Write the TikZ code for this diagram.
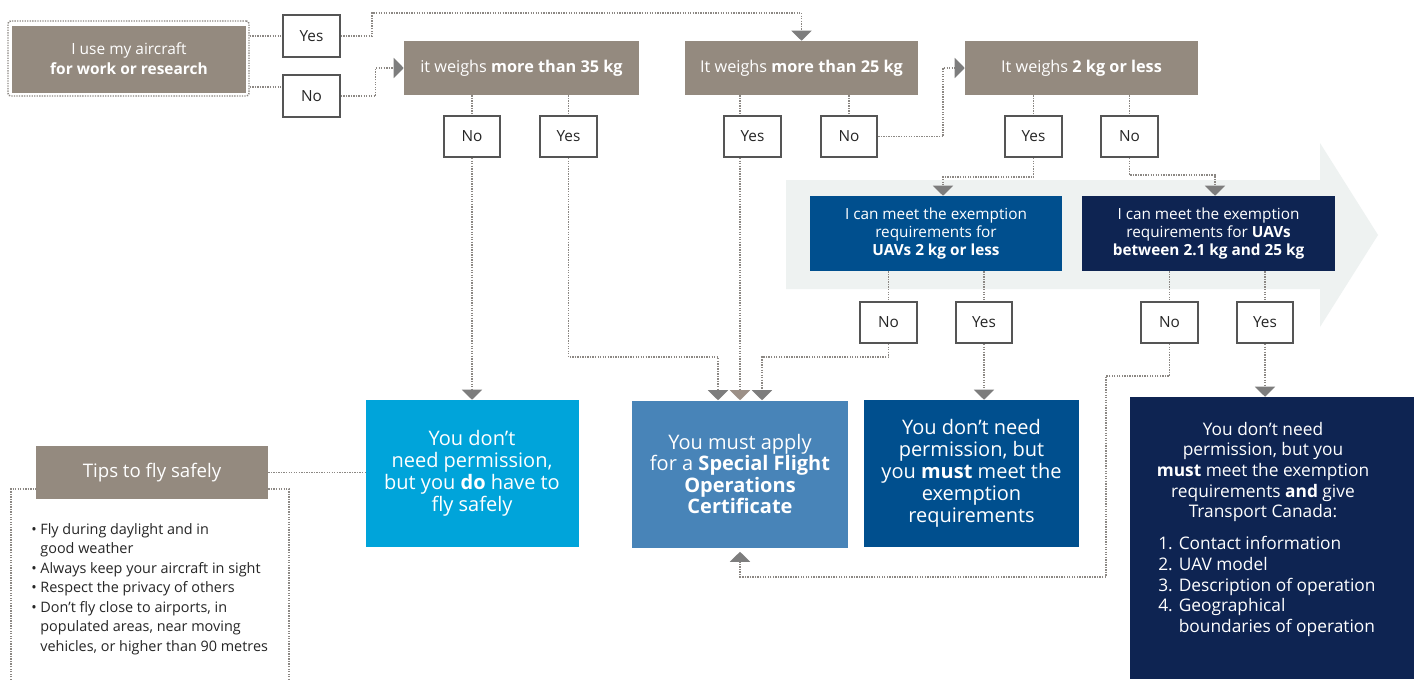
\documentclass[tikz,border=0pt]{standalone}
\usepackage{fontspec}
\setmainfont{Open Sans}
\usetikzlibrary{arrows.meta,calc}
\definecolor{boxgray}{HTML}{948A7F}
\definecolor{cyanb}{HTML}{00A4DA}
\definecolor{steelb}{HTML}{4884B8}
\definecolor{medb}{HTML}{004F8E}
\definecolor{navyb}{HTML}{0E2452}
\definecolor{lightarr}{HTML}{EEF2F1}
\definecolor{dotgray}{HTML}{8C8884}
\definecolor{tipgray}{HTML}{7D7D7D}
\definecolor{tiptan}{HTML}{9C9087}
\definecolor{ynframe}{HTML}{555555}
\pgfdeclarelayer{back}
\pgfdeclarelayer{lines}
\pgfsetlayers{back,lines,main}
\tikzset{
  graybox/.style={fill=boxgray, text=white, inner sep=0pt, align=center},
  colbox/.style={fill=#1, text=white, inner sep=0pt, align=center},
  ynbox/.style={draw=ynframe, line width=1.3pt, fill=white, minimum width=42.5pt,
    minimum height=31pt, inner sep=0pt, font=\fontsize{11.5}{13}\selectfont, text=black!85},
  conn/.style={draw=dotgray, line width=1.1pt, dash pattern=on 1pt off 0.9pt},
  arr/.style={-{Triangle[width=15pt,length=7.5pt,color=tipgray]}},
  arrtan/.style={-{Triangle[width=15pt,length=7.5pt,color=tiptan]}},
  txt/.style={text=white, inner sep=0pt},
}
\begin{document}
\begin{tikzpicture}[x=0.75pt,y=-0.75pt]
\useasboundingbox (0,0) rectangle (1414,679);
\begin{pgfonlayer}{back}
\fill[white] (0,0) rectangle (1414,679);
\fill[lightarr] (786,180) -- (1320,180) -- (1320,143) -- (1378,235) -- (1320,327) -- (1320,289) -- (786,289) -- cycle;
\end{pgfonlayer}

% start
\node[conn, rounded corners=2pt, minimum width=180.75pt, minimum height=56.25pt, inner sep=0pt] (startframe) at (128.5,58.5) {};
\node[graybox, minimum width=175.5pt, minimum height=50.25pt, font=\fontsize{11.6}{15}\selectfont] (start) at (129,59) {I use my aircraft\\\textbf{for work or research}};
\node[ynbox] (yes0) at (311.5,36) {Yes};
\node[ynbox] (no0) at (311.5,96) {No};

% weight boxes
\node[graybox, minimum width=176.25pt, minimum height=40.5pt, font=\fontsize{12.2}{14}\selectfont] (w35) at (521.5,68) {it weighs \textbf{more than 35 kg}};
\node[graybox, minimum width=174.75pt, minimum height=40.5pt, font=\fontsize{12.2}{14}\selectfont] (w25) at (801.5,68) {It weighs \textbf{more than 25 kg}};
\node[graybox, minimum width=174.75pt, minimum height=40.5pt, font=\fontsize{12.2}{14}\selectfont] (w2) at (1081.5,68) {It weighs \textbf{2 kg or less}};

\node[ynbox] (n35) at (472,136.5) {No};
\node[ynbox] (y35) at (568.5,136.5) {Yes};
\node[ynbox] (y25) at (752.5,136.5) {Yes};
\node[ynbox] (n25) at (849,136.5) {No};
\node[ynbox] (y2) at (1033.5,136.5) {Yes};
\node[ynbox] (n2) at (1129.5,136.5) {No};

% exemption boxes
\node[colbox=medb, minimum width=189pt, minimum height=56.25pt, font=\fontsize{11.5}{13.5}\selectfont] (blue1) at (936,233.5) {I can meet the exemption\\requirements for\\\textbf{UAVs 2 kg or less}};
\node[colbox=navyb, minimum width=189.75pt, minimum height=56.25pt, font=\fontsize{11.5}{13.5}\selectfont] (navy1) at (1208.5,233.5) {I can meet the exemption\\requirements for \textbf{UAVs}\\\textbf{between 2.1 kg and 25 kg}};

\node[ynbox] (nb1) at (888.5,322.5) {No};
\node[ynbox] (yb1) at (984,322.5) {Yes};
\node[ynbox] (nn1) at (1169.5,322.5) {No};
\node[ynbox] (yn1) at (1265,322.5) {Yes};

% outcomes
\node[colbox=cyanb, minimum width=159.75pt, minimum height=110.25pt, font=\fontsize{15}{16.5}\selectfont] (cyan) at (472,473.5) {You don’t\\need permission,\\but you \textbf{do} have to\\fly safely};
\node[colbox=steelb, minimum width=162pt, minimum height=110.25pt, font=\fontsize{15}{16.2}\selectfont] (steel) at (740,474) {You must apply\\for a \textbf{Special Flight}\\\textbf{Operations}\\\textbf{Certificate}};
\node[colbox=medb, minimum width=161.25pt, minimum height=110.25pt, font=\fontsize{15}{16.5}\selectfont] (medblue) at (971.5,473.5) {You don’t need\\permission, but\\you \textbf{must} meet the\\exemption\\requirements};
\node[fill=navyb, minimum width=213pt, minimum height=211.5pt, inner sep=0pt] (navybig) at (1272,538) {};
\node[txt, align=center, font=\fontsize{13}{15.4}\selectfont] (navytext) at (1263,472) {You don’t need\\permission, but you\\\textbf{must} meet the exemption\\requirements \textbf{and} give\\Transport Canada:};
\node[txt, align=left, anchor=west, font=\fontsize{13}{15.6}\selectfont] (navylist) at (1158,586.5) {1. Contact information\\2. UAV model\\3. Description of operation\\4. Geographical\\\hphantom{4. }boundaries of operation};

% tips
\node[graybox, minimum width=174pt, minimum height=39.75pt, font=\fontsize{14}{16}\selectfont] (tips) at (152,472.5) {Tips to fly safely};
\node[inner sep=0pt, align=left, anchor=west, text=black!85, font=\fontsize{10.8}{14.6}\selectfont] (tipslist) at (31,589) {\textbullet\ Fly during daylight and in\\\hphantom{\textbullet\ }good weather\\\textbullet\ Always keep your aircraft in sight\\\textbullet\ Respect the privacy of others\\\textbullet\ Don’t fly close to airports, in\\\hphantom{\textbullet\ }populated areas, near moving\\\hphantom{\textbullet\ }vehicles, or higher than 90 metres};

\begin{pgfonlayer}{lines}
\draw[conn] (startframe.east |- yes0) -- (yes0.west);
\draw[conn] ($(startframe.east |- no0)+(0,-9)$) -- ($(no0.west)+(0,-9)$);
\draw[conn,arr] (yes0.east) -| (372,13) -| (w25.north);
\draw[conn,arr] (no0.east) -- ++(35,0) |- (w35.west);
\draw[conn] (w35.south -| n35) -- (n35.north);
\draw[conn,arr] (n35.south) -- (cyan.north -| n35);
\draw[conn] (w35.south -| y35) -- (y35.north);
\draw[conn,arr] (y35.south) -- ++(0,199) -| ($(steel.north)+(-22,0)$);
\draw[conn] (w25.south -| steel) -- (y25.north -| steel);
\draw[conn,arrtan] (y25.south -| steel) -- (steel.north);
\draw[conn] (w25.south -| n25) -- (n25.north);
\draw[conn,arr] (n25.east) -- ++(65,0) |- (w2.west);
\draw[conn] (w2.south -| y2) -- (y2.north);
\draw[conn,arr] (y2.south) -- ++(0,19) -| ($(blue1.north)+(7,0)$);
\draw[conn] (w2.south -| n2) -- (n2.north);
\draw[conn,arr] (n2.south) -- ++(0,17) -| ($(navy1.north)+(6.5,0)$);
\draw[conn] (blue1.south -| nb1) -- (nb1.north);
\draw[conn,arr] (nb1.south) -- ++(0,13) -| ($(steel.north)+(22,0)$);
\draw[conn] (blue1.south -| yb1) -- (yb1.north);
\draw[conn,arr] (yb1.south) -- (medblue.north -| yb1);
\draw[conn] (navy1.south -| nn1) -- (nn1.north);
\draw[conn,arr] (nn1.south) -- ++(0,32) -- ++(-63.5,0) |- ($(steel.south)+(0,29)$) -- ($(steel.south)+(0,4)$);
\draw[conn] (navy1.south -| yn1) -- (yn1.north);
\draw[conn,arr] (yn1.south) -- (navybig.north -| yn1);
\draw[conn] (tips.east) -- (cyan.west |- tips.east);
\draw[conn] (11,680) |- (289,489) -- (289,680);
\end{pgfonlayer}
\end{tikzpicture}
\end{document}
